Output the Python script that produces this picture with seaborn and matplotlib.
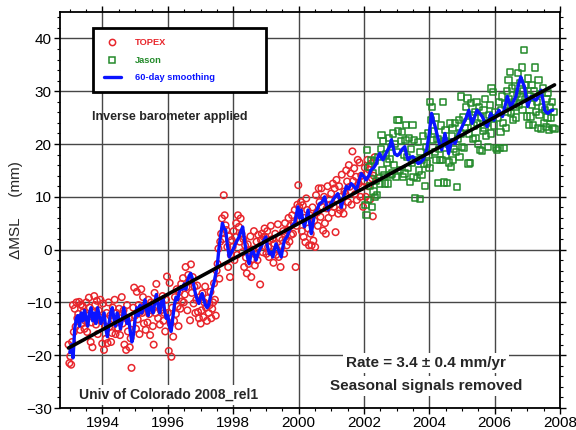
import numpy as np
import pandas as pd
import matplotlib
matplotlib.use("Agg")
import matplotlib.pyplot as plt
from matplotlib.lines import Line2D
from matplotlib.patches import Rectangle
from matplotlib.ticker import MultipleLocator
import seaborn as sns

sns.set_theme(style="ticks")
plt.rcParams['font.family'] = ['Liberation Sans', 'DejaVu Sans']

# ---- data (mm, yearly fraction) ----
# TOPEX / Jason are on ~10-day repeat cycles
cycle = 0.02715
topex_start = 1992.96
jason_start = 2002.05

topex_mm = [
    # 1993
    -18.0, -21.5, -20.2, -21.8, -17.5, -10.5, -15.6, -11.2, -14.6, -10.0, -13.0, -12.2, -9.9,
    -15.2, -10.4, -14.0, -10.7, -11.8, -15.0, -13.5, -10.0, -15.6, -12.5, -9.1, -11.0, -17.5,
    -13.8, -18.5, -12.0, -8.8, -10.5, -14.2, -9.7, -16.0, -11.5, -12.8, -9.5,
    # 1994
    -13.5, -17.8, -10.2, -19.0, -14.5, -16.9, -12.0, -17.7, -10.0, -14.6, -12.5, -17.5, -15.8,
    -11.0, -13.2, -9.5, -16.0, -12.0, -14.8, -15.0, -11.2, -16.2, -13.0, -9.0, -14.0, -11.5,
    -18.0, -12.8, -19.0, -10.5, -15.5, -13.0, -18.5, -16.8, -22.4, -14.0, -11.0,
    # 1995
    -7.2, -12.5, -15.0, -8.0, -13.2, -10.5, -16.0, -11.8, -7.5, -12.0, -9.0, -14.0, -10.8,
    -15.2, -11.0, -13.8, -9.5, -12.2, -16.2, -10.0, -11.5, -14.5, -18.0, -8.2, -12.0, -6.5,
    -10.5, -13.0, -9.8, -14.2, -11.5, -10.0, -8.8, -13.5, -12.0, -15.5, -9.5,
    # 1996
    -5.1, -12.0, -19.2, -6.3, -14.0, -20.3, -11.0, -16.5, -13.5, -9.0, -12.2, -7.5, -10.8,
    -14.5, -8.0, -11.2, -6.5, -9.8, -5.4, -10.0, -8.5, -3.3, -7.1, -11.5, -4.8, -6.0,
    -13.4, -2.8, -8.2, -5.2, -10.2, -7.0, -12.0, -9.5, -6.8, -11.8, -13.0,
    # 1997
    -9.0, -14.0, -11.5, -8.3, -12.8, -10.0, -7.0, -11.0, -13.5, -9.2, -12.0, -10.5, -8.0,
    -13.0, -11.2, -10.0, -6.4, -9.5, -12.5, -4.0, -2.7, 0.2, -5.5, 1.5, 3.0, 5.9,
    2.0, 10.3, 6.5, 4.6, 3.7, 0.5, -3.3, 2.5, -5.2, -1.0, 1.8,
    # 1998
    0.5, 3.5, -2.0, 2.4, 5.0, -1.0, 6.5, 4.3, 1.5, 5.9, 3.0, -0.5, 2.0,
    -3.3, 0.8, -1.5, -4.5, 1.0, -2.7, -0.2, 2.5, -5.2, 0.0, -1.8, 3.5, -3.0,
    -1.0, 1.5, -2.0, 2.8, 0.5, -6.6, 1.8, 3.0, -0.5, 2.4, 4.0,
    # 1999
    2.4, -0.8, 3.5, 0.5, -1.4, 1.8, 4.5, -0.5, 2.0, -2.5, 1.1, 3.0, -1.0,
    0.0, 4.8, -1.4, 2.2, -3.3, 0.5, 1.8, 3.5, -0.8, 5.0, 2.0, 0.8, 3.7,
    6.0, 1.5, 4.5, 2.8, 6.5, 3.0, 5.0, 7.5, -3.3, 4.5, 8.5,
    # 2000
    12.2, 8.1, 5.6, 9.0, 3.5, 8.4, 2.4, 6.0, 1.4, 9.7, 7.5, 4.0, 0.8,
    6.5, 3.0, 0.8, 8.0, 1.7, 5.5, 0.5, 10.3, 7.0, 4.5, 11.6, 9.0, 6.2,
    11.6, 8.1, 3.6, 10.0, 5.0, 3.0, 7.8, 12.0, 6.0, 9.5, 8.5,
    # 2001
    10.6, 7.0, 12.5, 8.1, 11.6, 3.3, 13.2, 9.5, 6.8, 12.0, 7.5, 10.0, 14.2,
    8.1, 6.8, 11.0, 10.6, 15.0, 12.9, 9.0, 16.0, 11.9, 14.4, 8.5, 18.6, 13.0,
    15.4, 10.5, 13.8, 9.4, 17.0, 12.5, 16.5, 10.0, 14.0, 11.9, 8.1,
    # 2002
    12.9, 15.5, 10.0, 14.4, 17.0, 12.0, 15.1, 9.5, 16.3, 13.5, 6.3, 14.0, 17.5,
]

jason_mm = [
    # 2002
    8.4, 6.5, 18.9, 9.4, 15.7, 12.0, 17.0, 8.1, 14.5, 11.0, 16.8, 10.0, 13.0,
    10.3, 17.5, 13.5, 12.5, 19.0, 21.7, 15.0, 20.5, 14.2, 12.5, 18.0, 16.5, 12.5,
    21.1, 17.2, 14.1, 19.5, 14.4, 22.0, 16.0, 20.0, 13.8, 18.5, 24.6,
    # 2003
    22.4, 24.5, 15.1, 20.5, 22.3, 13.8, 18.0, 14.4, 20.8, 23.6, 17.6, 15.4, 21.1,
    12.8, 19.0, 16.5, 23.6, 13.8, 20.8, 9.7, 17.0, 13.5, 20.4, 15.0, 9.6, 18.5,
    14.1, 17.0, 21.5, 16.3, 12.0, 19.5, 16.3, 22.0, 18.0, 15.5, 28.0,
    # 2004
    24.5, 27.0, 20.8, 22.5, 18.5, 25.0, 17.0, 21.0, 12.6, 19.0, 16.9, 23.5, 17.0,
    28.0, 12.7, 20.5, 22.6, 18.0, 12.6, 20.1, 16.5, 23.9, 15.7, 21.5, 23.0, 17.0,
    19.0, 24.0, 18.5, 11.9, 21.0, 24.5, 17.5, 22.0, 29.0, 19.5, 25.0,
    # 2005
    19.3, 23.0, 27.0, 24.2, 28.6, 16.3, 22.0, 16.4, 27.7, 25.5, 21.0, 23.5, 26.0,
    21.1, 28.0, 24.0, 20.0, 27.0, 18.9, 25.0, 18.6, 22.5, 26.5, 23.0, 28.5, 21.5,
    24.0, 19.5, 25.5, 27.4, 22.0, 30.5, 24.9, 29.9, 23.5, 26.0, 19.2,
    # 2006
    18.8, 25.0, 28.0, 19.2, 22.3, 26.5, 29.0, 24.0, 19.3, 27.5, 23.0, 30.0, 26.0,
    32.1, 28.5, 33.7, 25.8, 30.5, 24.5, 28.0, 31.0, 27.0, 25.0, 29.5, 33.5, 27.5,
    31.5, 29.0, 34.5, 26.5, 30.0, 37.8, 28.5, 31.2, 25.2, 32.4, 23.6,
    # 2007
    29.0, 25.2, 31.2, 27.5, 23.6, 30.0, 34.5, 26.0, 28.0, 23.0, 32.1, 25.5, 29.5,
    22.8, 27.0, 30.5, 24.0, 26.5, 23.2, 28.5, 25.0, 29.6, 22.6, 27.0, 24.9, 28.0,
    23.0, 26.0, 22.8,
]

smooth_year = [
    1993.00, 1993.05, 1993.10, 1993.15, 1993.20, 1993.25, 1993.30, 1993.35, 1993.40, 1993.45,
    1993.50, 1993.55, 1993.60, 1993.65, 1993.70, 1993.75, 1993.80, 1993.85, 1993.90, 1993.95,
    1994.00, 1994.05, 1994.10, 1994.15, 1994.20, 1994.25, 1994.30, 1994.35, 1994.40, 1994.45,
    1994.50, 1994.55, 1994.60, 1994.65, 1994.70, 1994.75, 1994.80, 1994.85, 1994.90, 1994.95,
    1995.00, 1995.05, 1995.10, 1995.15, 1995.20, 1995.25, 1995.30, 1995.35, 1995.40, 1995.45,
    1995.50, 1995.55, 1995.60, 1995.65, 1995.70, 1995.75, 1995.80, 1995.85, 1995.90, 1995.95,
    1996.00, 1996.05, 1996.10, 1996.15, 1996.20, 1996.25, 1996.30, 1996.35, 1996.40, 1996.45,
    1996.50, 1996.55, 1996.60, 1996.65, 1996.70, 1996.75, 1996.80, 1996.85, 1996.90, 1996.95,
    1997.00, 1997.05, 1997.10, 1997.15, 1997.20, 1997.25, 1997.30, 1997.36, 1997.42, 1997.47,
    1997.52, 1997.56, 1997.60, 1997.64, 1997.67, 1997.72, 1997.77, 1997.82, 1997.88, 1997.95,
    1998.03, 1998.10, 1998.18, 1998.24, 1998.29, 1998.34, 1998.39, 1998.44, 1998.49, 1998.54,
    1998.59, 1998.65, 1998.70, 1998.77, 1998.85, 1998.92, 1999.00, 1999.05, 1999.11, 1999.16,
    1999.21, 1999.26, 1999.31, 1999.38, 1999.47, 1999.52, 1999.57, 1999.65, 1999.72, 1999.80,
    1999.88, 1999.93, 1999.98, 2000.03, 2000.08, 2000.13, 2000.18, 2000.24, 2000.29, 2000.34,
    2000.39, 2000.44, 2000.49, 2000.56, 2000.64, 2000.72, 2000.80, 2000.85, 2000.90, 2000.97,
    2001.05, 2001.12, 2001.20, 2001.26, 2001.31, 2001.38, 2001.46, 2001.53, 2001.61, 2001.69,
    2001.77, 2001.85, 2001.92, 2002.00, 2002.07, 2002.15, 2002.22, 2002.30, 2002.38, 2002.43,
    2002.48, 2002.53, 2002.58, 2002.66, 2002.73, 2002.79, 2002.84, 2002.89, 2002.94, 2003.02,
    2003.09, 2003.17, 2003.25, 2003.30, 2003.35, 2003.42, 2003.50, 2003.58, 2003.66, 2003.73,
    2003.81, 2003.87, 2003.92, 2004.00, 2004.07, 2004.12, 2004.18, 2004.23, 2004.28, 2004.33,
    2004.38, 2004.43, 2004.48, 2004.54, 2004.59, 2004.64, 2004.69, 2004.74, 2004.79, 2004.87,
    2004.95, 2005.00, 2005.05, 2005.13, 2005.21, 2005.26, 2005.31, 2005.38, 2005.46, 2005.54,
    2005.62, 2005.69, 2005.77, 2005.83, 2005.88, 2005.93, 2005.98, 2006.05, 2006.13, 2006.19,
    2006.24, 2006.31, 2006.39, 2006.44, 2006.49, 2006.57, 2006.65, 2006.72, 2006.80, 2006.85,
    2006.91, 2006.96, 2007.01, 2007.06, 2007.11, 2007.19, 2007.27, 2007.35, 2007.42, 2007.48,
    2007.53, 2007.58, 2007.63, 2007.70, 2007.78,
]
smooth_mm = [
    -19.5, -18.0, -20.5, -15.0, -13.0, -12.5, -14.5, -12.0, -13.5, -11.5,
    -13.0, -14.5, -12.0, -11.0, -13.5, -12.0, -14.0, -11.0, -12.5, -14.0,
    -13.0, -12.0, -15.0, -16.5, -14.0, -12.0, -11.0, -13.0, -14.5, -12.0,
    -13.0, -15.0, -13.5, -11.0, -12.5, -14.0, -13.0, -15.5, -17.5, -16.0,
    -13.0, -11.0, -12.5, -10.5, -12.0, -11.0, -9.5, -11.5, -12.5, -10.5,
    -11.0, -12.0, -10.0, -8.5, -10.5, -12.0, -10.0, -9.0, -11.5, -13.0,
    -12.5, -14.5, -15.5, -13.0, -10.5, -9.0, -9.5, -8.0, -7.0, -7.5,
    -6.5, -7.5, -6.0, -5.0, -4.5, -5.5, -7.0, -8.5, -9.5, -10.2,
    -9.0, -8.3, -9.5, -10.5, -11.0, -10.5, -9.0, -7.5, -6.0, -4.5,
    -2.6, 0.0, 2.0, 3.8, 5.0, 4.0, 3.7, 1.0, -1.4, -0.5,
    0.5, 1.5, 2.4, 3.5, 4.3, 2.0, -0.1, -1.5, -2.7, -1.0,
    0.0, -1.0, -2.0, -0.5, 0.5, 1.5, 2.4, 0.5, -0.8, -0.5,
    -1.4, 0.0, 1.1, 0.0, -1.4, 0.5, 1.8, 2.5, 3.7, 4.5,
    5.0, 6.5, 8.1, 6.0, 7.5, 5.5, 4.3, 6.0, 7.5, 5.0,
    3.0, 5.0, 6.8, 7.5, 8.7, 9.0, 10.0, 8.5, 7.5, 8.5,
    9.4, 10.0, 10.6, 9.5, 8.0, 10.0, 12.0, 11.5, 12.5, 12.0,
    11.3, 13.0, 14.4, 13.8, 13.2, 14.0, 15.1, 15.5, 16.3, 17.5,
    18.2, 17.5, 17.0, 18.0, 18.9, 19.5, 20.8, 19.5, 18.2, 17.8,
    18.2, 19.0, 19.5, 18.0, 17.0, 17.5, 17.6, 17.0, 16.3, 16.5,
    17.0, 18.0, 18.9, 22.0, 25.8, 24.5, 23.3, 22.0, 20.8, 19.5,
    18.9, 20.5, 22.0, 20.0, 18.2, 19.5, 20.8, 20.5, 20.1, 21.5,
    22.6, 23.2, 23.9, 25.0, 26.4, 25.0, 23.9, 25.0, 26.4, 25.8,
    25.2, 24.2, 23.3, 24.5, 25.8, 25.2, 24.5, 25.5, 26.4, 25.8,
    25.2, 27.0, 29.0, 28.0, 27.1, 28.0, 29.0, 31.0, 32.7, 31.8,
    30.9, 29.0, 27.1, 28.0, 29.0, 28.6, 28.3, 29.2, 30.2, 28.3,
    26.4, 26.0, 25.8, 26.2, 26.4,
]

topex_year = topex_start + cycle * np.arange(len(topex_mm))
jason_year = jason_start + cycle * np.arange(len(jason_mm))

red = "#e8262c"
green = "#238a2a"
blue = "#0a14ff"

fig = plt.figure(figsize=(5.76, 4.30), dpi=100)
ax = fig.add_axes([60 / 576, 1 - 408 / 430, 500 / 576, 396 / 430])

sns.scatterplot(x=topex_year, y=topex_mm, ax=ax, marker="o", s=22,
                facecolor="none", edgecolor=red, linewidth=1.1, zorder=3)
sns.scatterplot(x=jason_year, y=jason_mm, ax=ax, marker="s", s=20,
                facecolor="none", edgecolor=green, linewidth=1.1, zorder=3)
sns.lineplot(x=smooth_year, y=smooth_mm, ax=ax, color=blue, lw=2.4, zorder=4)

all_year = np.concatenate([topex_year, jason_year])
all_mm = np.concatenate([topex_mm, jason_mm])
sns.regplot(x=all_year, y=all_mm, ax=ax, scatter=False, ci=None, truncate=True,
            color="black", line_kws={"lw": 2.6, "zorder": 5})

ax.set_xlim(1992.7, 2008)
ax.set_ylim(-30, 45)
ax.xaxis.set_major_locator(MultipleLocator(2))
ax.xaxis.set_minor_locator(MultipleLocator(0.5))
ax.yaxis.set_major_locator(MultipleLocator(10))
ax.yaxis.set_minor_locator(MultipleLocator(2))
ax.set_yticks([-30, -20, -10, 0, 10, 20, 30, 40])
ax.grid(True, which="major", color="0.28", lw=1.0, zorder=1)
ax.set_axisbelow(True)
ax.tick_params(which="both", direction="out", top=True, right=True,
               labelsize=11, colors="black", pad=2)
ax.tick_params(which="major", length=4, width=1)
ax.tick_params(which="minor", length=2, width=0.8)
for s in ax.spines.values():
    s.set_color("black")
    s.set_linewidth(1.3)

ax.set_ylabel("\u0394MSL     (mm)", fontsize=11, labelpad=2)
ax.set_xlabel("")

# legend box
ax.add_patch(Rectangle((0.066, 0.798), 0.346, 0.162, transform=ax.transAxes,
                       facecolor="white", edgecolor="black", lw=2, zorder=10))
handles = [
    Line2D([], [], marker="o", ls="none", mfc="none", mec=red, ms=4.5, mew=1.1),
    Line2D([], [], marker="s", ls="none", mfc="none", mec=green, ms=4.2, mew=1.1),
    Line2D([], [], color=blue, lw=2.4),
]
leg = ax.legend(handles, ["TOPEX", "Jason", "60-day smoothing"], loc="upper left",
                bbox_to_anchor=(0.078, 0.945), frameon=False, borderpad=0,
                prop={"size": 6.7, "weight": "bold"}, handlelength=1.9,
                handletextpad=1.5, labelspacing=0.9)
leg.set_zorder(11)
for t, c in zip(leg.get_texts(), [red, green, blue]):
    t.set_color(c)

ax.text(0.22, 0.735, "Inverse barometer applied", transform=ax.transAxes,
        ha="center", va="center", fontsize=9, fontweight="bold", zorder=12)
ax.text(0.218, 0.033, "Univ of Colorado 2008_rel1", transform=ax.transAxes,
        ha="center", va="center", fontsize=10, fontweight="bold", zorder=12,
        bbox=dict(facecolor="white", edgecolor="none", pad=2))
ax.text(0.732, 0.114, "Rate = 3.4 \u00b1 0.4 mm/yr", transform=ax.transAxes,
        ha="center", va="center", fontsize=11, fontweight="bold", zorder=12,
        bbox=dict(facecolor="white", edgecolor="none", pad=2))
ax.text(0.732, 0.056, "Seasonal signals removed", transform=ax.transAxes,
        ha="center", va="center", fontsize=11, fontweight="bold", zorder=12,
        bbox=dict(facecolor="white", edgecolor="none", pad=2))

fig.savefig("out.png", dpi=100)
